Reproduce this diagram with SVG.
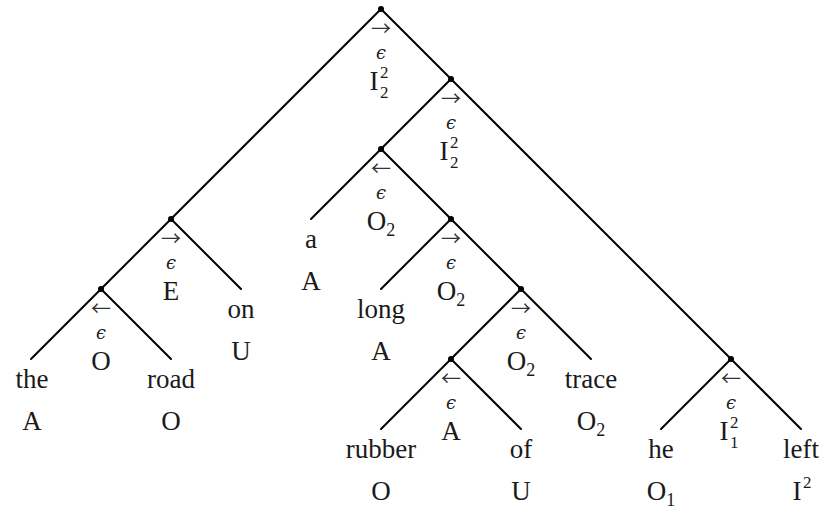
<svg xmlns="http://www.w3.org/2000/svg" width="821" height="509" viewBox="0 0 821 509">
<style>
.e{stroke:#000;stroke-width:2;fill:none;stroke-linecap:round}
.d{fill:#000}
.w{font-family:"Liberation Serif","DejaVu Serif",serif;font-size:27px;text-anchor:middle;fill:#1a1a1a}
.s{font-size:18px}
.sc{font-family:"Liberation Serif","DejaVu Serif",serif;font-size:17px;fill:#1a1a1a}
.ar{font-family:"Noto Sans CJK SC","DejaVu Sans",sans-serif;font-size:20px;text-anchor:middle;fill:#333}
.ep{font-family:"DejaVu Serif",serif;font-style:italic;font-size:18px;text-anchor:middle;fill:#222}
</style>
<rect width="821" height="509" fill="#fff"/>
<g id="connectors">
<line class="e" x1="381" y1="9" x2="171" y2="219"/>
<line class="e" x1="381" y1="9" x2="451" y2="79"/>
<line class="e" x1="171" y1="219" x2="101" y2="289"/>
<line class="e" x1="171" y1="219" x2="241" y2="289"/>
<line class="e" x1="101" y1="289" x2="31" y2="359"/>
<line class="e" x1="101" y1="289" x2="171" y2="359"/>
<line class="e" x1="451" y1="79" x2="381" y2="149"/>
<line class="e" x1="451" y1="79" x2="731" y2="359"/>
<line class="e" x1="731" y1="359" x2="661" y2="429"/>
<line class="e" x1="731" y1="359" x2="801" y2="429"/>
<line class="e" x1="381" y1="149" x2="311" y2="219"/>
<line class="e" x1="381" y1="149" x2="451" y2="219"/>
<line class="e" x1="451" y1="219" x2="381" y2="289"/>
<line class="e" x1="451" y1="219" x2="521" y2="289"/>
<line class="e" x1="521" y1="289" x2="451" y2="359"/>
<line class="e" x1="521" y1="289" x2="591" y2="359"/>
<line class="e" x1="451" y1="359" x2="381" y2="429"/>
<line class="e" x1="451" y1="359" x2="521" y2="429"/>
</g>
<g id="n-root">
<circle class="d" cx="381" cy="9" r="3"/>
<text class="ar" x="381" y="36">→</text>
<text class="ep" x="381" y="59">ϵ</text>
<text class="w" x="374" y="90">I</text>
<text class="sc" x="380" y="78">2</text>
<text class="sc" x="380" y="98">2</text>
</g>
<g id="n-i2b">
<circle class="d" cx="451" cy="79" r="3"/>
<text class="ar" x="451" y="106">→</text>
<text class="ep" x="451" y="129">ϵ</text>
<text class="w" x="444" y="160">I</text>
<text class="sc" x="450" y="148">2</text>
<text class="sc" x="450" y="168">2</text>
</g>
<g id="n-o2a">
<circle class="d" cx="381" cy="149" r="3"/>
<text class="ar" x="381" y="176">←</text>
<text class="ep" x="381" y="199">ϵ</text>
<text class="w" x="381" y="230">O<tspan class="s" dy="6">2</tspan></text>
</g>
<g id="n-o2b">
<circle class="d" cx="451" cy="219" r="3"/>
<text class="ar" x="451" y="246">→</text>
<text class="ep" x="451" y="269">ϵ</text>
<text class="w" x="451" y="300">O<tspan class="s" dy="6">2</tspan></text>
</g>
<g id="n-o2c">
<circle class="d" cx="521" cy="289" r="3"/>
<text class="ar" x="521" y="316">→</text>
<text class="ep" x="521" y="339">ϵ</text>
<text class="w" x="521" y="370">O<tspan class="s" dy="6">2</tspan></text>
</g>
<g id="n-a">
<circle class="d" cx="451" cy="359" r="3"/>
<text class="ar" x="451" y="386">←</text>
<text class="ep" x="451" y="409">ϵ</text>
<text class="w" x="451" y="440">A</text>
</g>
<g id="n-e">
<circle class="d" cx="171" cy="219" r="3"/>
<text class="ar" x="171" y="246">→</text>
<text class="ep" x="171" y="269">ϵ</text>
<text class="w" x="171" y="300">E</text>
</g>
<g id="n-o">
<circle class="d" cx="101" cy="289" r="3"/>
<text class="ar" x="101" y="316">←</text>
<text class="ep" x="101" y="339">ϵ</text>
<text class="w" x="101" y="370">O</text>
</g>
<g id="n-i12">
<circle class="d" cx="731" cy="359" r="3"/>
<text class="ar" x="731" y="386">←</text>
<text class="ep" x="731" y="409">ϵ</text>
<text class="w" x="724" y="440">I</text>
<text class="sc" x="730" y="428">2</text>
<text class="sc" x="730" y="448">1</text>
</g>
<g id="leaf-the"><text class="w" x="32" y="388">the</text><text class="w" x="32" y="430">A</text></g>
<g id="leaf-road"><text class="w" x="171" y="388">road</text><text class="w" x="171" y="430">O</text></g>
<g id="leaf-on"><text class="w" x="241" y="318">on</text><text class="w" x="241" y="360">U</text></g>
<g id="leaf-a"><text class="w" x="311" y="248">a</text><text class="w" x="311" y="290">A</text></g>
<g id="leaf-long"><text class="w" x="381" y="318">long</text><text class="w" x="381" y="360">A</text></g>
<g id="leaf-trace"><text class="w" x="591" y="388">trace</text><text class="w" x="591" y="430">O<tspan class="s" dy="6">2</tspan></text></g>
<g id="leaf-rubber"><text class="w" x="381" y="458">rubber</text><text class="w" x="381" y="500">O</text></g>
<g id="leaf-of"><text class="w" x="521" y="458">of</text><text class="w" x="521" y="500">U</text></g>
<g id="leaf-he"><text class="w" x="661" y="458">he</text><text class="w" x="661" y="500">O<tspan class="s" dy="6">1</tspan></text></g>
<g id="leaf-left"><text class="w" x="801" y="458">left</text><text class="w" x="797" y="500">I</text><text class="sc" x="803" y="488">2</text></g>
</svg>
